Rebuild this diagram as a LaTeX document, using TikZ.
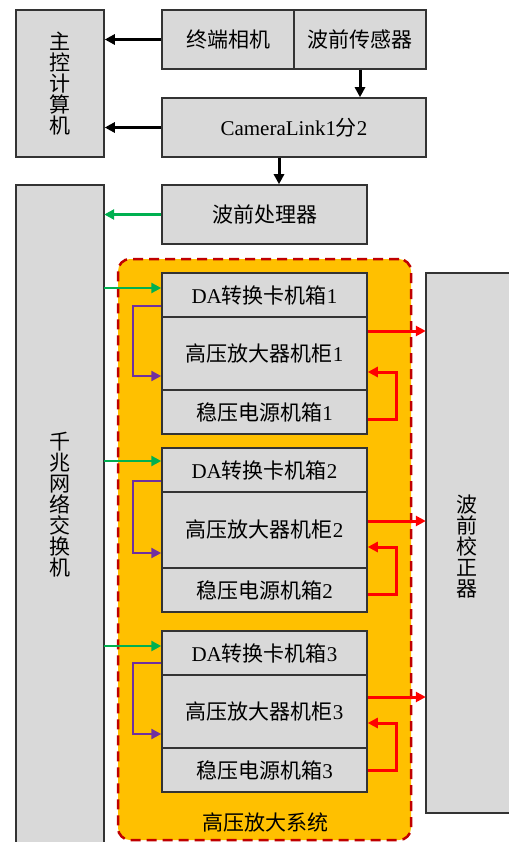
\documentclass[tikz,border=0pt]{standalone}
\usepackage{fontspec}
\setmainfont{Liberation Serif}
\newfontfamily\cjk{Noto Sans CJK SC}
\usetikzlibrary{arrows.meta,calc}
\definecolor{boxgray}{HTML}{D9D9D9}
\definecolor{boxline}{HTML}{333333}
\definecolor{orangefill}{HTML}{FFC000}
\definecolor{dashred}{HTML}{C00000}
\definecolor{arrgreen}{HTML}{00B050}
\definecolor{arrpurple}{HTML}{7030A0}
\definecolor{arrred}{HTML}{FF0000}
\begin{document}
\begin{tikzpicture}[x=1pt,y=-1pt,
  box/.style={draw=boxline,fill=boxgray,line width=1.5pt,inner sep=0pt,anchor=center,
    font=\fontsize{21}{21}\selectfont},
  vtext/.style={align=center,inner sep=0pt,font=\fontsize{21}{21}\selectfont\cjk},
  tip/.style={-{Triangle[length=10pt,width=10pt]}},
  blk/.style={tip,draw=black,line width=3pt},
  grn/.style={tip,draw=arrgreen,line width=2.8pt},
  pur/.style={tip,draw=arrpurple,line width=2.3pt},
  rd/.style={tip,draw=arrred,line width=3pt}]
\useasboundingbox (0,0) rectangle (508,842);
\fill[white] (0,0) rectangle (508,842);

% container
\node[draw=dashred,fill=orangefill,line width=2.5pt,dash pattern=on 10pt off 6pt,
  rounded corners=12pt,minimum width=293pt,minimum height=581pt,inner sep=0pt]
  (sys) at (264.5,549.5) {};
\node[font=\fontsize{21}{21}\selectfont\cjk,inner sep=0pt] (syslbl) at (265,822) {高压放大系统};

% top
\node[box,minimum width=88pt,minimum height=147pt] (main) at (60,83.5) {};
\node[vtext] (mainlbl) at (60,84) {主\\控\\计\\算\\机};
\node[box,minimum width=132pt,minimum height=59pt] (cam) at (228,39.5) {\cjk 终端相机};
\node[box,minimum width=132pt,minimum height=59pt] (wfs) at (360,39.5) {\cjk 波前传感器};
\node[box,minimum width=264pt,minimum height=59pt] (cl) at (294,127.5) {CameraLink1{\cjk 分}2};
\node[box,minimum width=205pt,minimum height=59pt] (wp) at (264.5,214.5) {\cjk 波前处理器};

% switch
\node[fill=boxgray,minimum width=88pt,minimum height=670pt,inner sep=0pt] (sw) at (60,520) {};
\draw[boxline,line width=1.5pt] (sw.south west) -- (sw.north west) -- (sw.north east) -- (sw.south east);
\node[vtext] (swlbl) at (60,505) {千\\兆\\网\\络\\交\\换\\机};

% corrector
\node[fill=boxgray,minimum width=90pt,minimum height=540pt,inner sep=0pt] (dm) at (471,543) {};
\draw[boxline,line width=1.5pt] (dm.north east) -- (dm.north west) -- (dm.south west) -- (dm.south east);
\node[vtext] (dmlbl) at (467,547) {波\\前\\校\\正\\器};

% groups
\node[box,minimum width=205pt,minimum height=44pt] (da1) at (264.5,295) {DA{\cjk 转换卡机箱}1};
\node[box,minimum width=205pt,minimum height=73pt] (hv1) at (264.5,353.5) {{\cjk 高压放大器机柜}1};
\node[box,minimum width=205pt,minimum height=44pt] (ps1) at (264.5,412) {{\cjk 稳压电源机箱}1};

\node[box,minimum width=205pt,minimum height=44pt] (da2) at (264.5,470) {DA{\cjk 转换卡机箱}2};
\node[box,minimum width=205pt,minimum height=76pt] (hv2) at (264.5,530) {{\cjk 高压放大器机柜}2};
\node[box,minimum width=205pt,minimum height=44pt] (ps2) at (264.5,590) {{\cjk 稳压电源机箱}2};

\node[box,minimum width=205pt,minimum height=44pt] (da3) at (264.5,653) {DA{\cjk 转换卡机箱}3};
\node[box,minimum width=205pt,minimum height=73pt] (hv3) at (264.5,711.5) {{\cjk 高压放大器机柜}3};
\node[box,minimum width=205pt,minimum height=44pt] (ps3) at (264.5,770) {{\cjk 稳压电源机箱}3};

% black arrows
\draw[blk] (cam.west) -- (cam.west -| main.east);
\draw[blk] (cl.west) -- (cl.west -| main.east);
\draw[blk] (wfs.south) -- (wfs.south |- cl.north);
\draw[blk] ([xshift=-15pt]cl.south) -- ([xshift=-15pt]cl.south |- wp.north);

% green
\draw[grn] ([yshift=7pt]da1.west -| sw.east) -- ([yshift=7pt]da1.west);
\draw[grn] ([yshift=9pt]da2.west -| sw.east) -- ([yshift=9pt]da2.west);
\draw[grn] ([yshift=7pt]da3.west -| sw.east) -- ([yshift=7pt]da3.west);
\draw[grn] (wp.west) -- (wp.west -| sw.east);

% purple
\draw[pur] ([yshift=-11pt]da1.west) -| (133,376) -- (hv1.west |- 0,376);
\draw[pur] ([yshift=-11pt]da2.west) -| (133,553) -- (hv2.west |- 0,553);
\draw[pur] ([yshift=-10pt]da3.west) -| (133,734) -- (hv3.west |- 0,734);

% red out
\draw[rd] (hv1.east |- 0,331) -- (dm.west |- 0,331);
\draw[rd] (hv2.east |- 0,521) -- (dm.west |- 0,521);
\draw[rd] (hv3.east |- 0,697) -- (dm.west |- 0,697);

% red feedback
\draw[rd] (ps1.east |- 0,419) -| (396,372) -- (hv1.east |- 0,372);
\draw[rd] (ps2.east |- 0,594) -| (396,547) -- (hv2.east |- 0,547);
\draw[rd] (ps3.east |- 0,770) -| (396,723) -- (hv3.east |- 0,723);
\end{tikzpicture}
\end{document}
